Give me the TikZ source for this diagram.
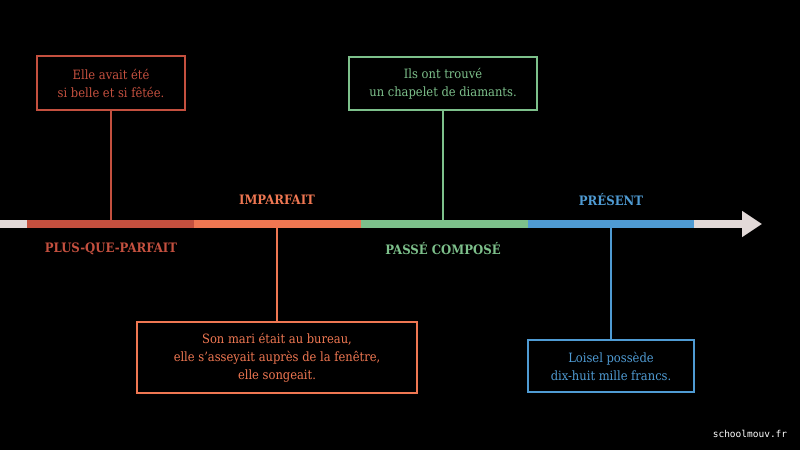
\documentclass[tikz,border=0pt]{standalone}
\usepackage{fontspec}
\setmainfont{DejaVu Serif Condensed}
\setmonofont{DejaVu Sans Mono}
\usepackage{xcolor}
\usetikzlibrary{positioning, arrows.meta}
\definecolor{pqp}{HTML}{C4503F}
\definecolor{imp}{HTML}{EF7752}
\definecolor{pc}{HTML}{7DC08B}
\definecolor{pres}{HTML}{4F9BD3}
\definecolor{axe}{HTML}{E2D9D8}
\tikzset{
  phrase/.style={draw=#1, text=#1, line width=1.6pt, align=center,
    inner sep=0pt, font=\fontsize{12.8}{18}\selectfont},
  temps/.style={text=#1, font=\bfseries\fontsize{13}{14}\selectfont},
  tige/.style={draw=#1, line width=1.6pt}
}

\begin{document}
\begin{tikzpicture}[x=1pt,y=-1pt]
  \fill[black] (0,0) rectangle (800,450);
  \useasboundingbox (0,0) rectangle (800,450);
  % la frise
  \coordinate (t0) at (0,224);
  \coordinate (t1) at (27,224);
  \coordinate (t2) at (194,224);
  \coordinate (t3) at (361,224);
  \coordinate (t4) at (528,224);
  \coordinate (t5) at (694,224);
  \coordinate (fin) at (762,224);
  \draw[axe, line width=8pt] (t0) -- (t1);
  \draw[pqp, line width=8pt] (t1) -- (t2);
  \draw[imp, line width=8pt] (t2) -- (t3);
  \draw[pc, line width=8pt] (t3) -- (t4);
  \draw[pres, line width=8pt] (t4) -- (t5);
  \draw[axe, line width=8pt, -{Triangle[length=20pt,width=25pt]}] (t5) -- (fin);
  % les temps
  \node[temps=pqp] (pqpl) at (111,249) {PLUS-QUE-PARFAIT};
  \node[temps=imp] (impl) at (277,200) {IMPARFAIT};
  \node[temps=pc] (pcl) at (443,249) {PASSÉ COMPOSÉ};
  \node[temps=pres] (presl) at (611,200) {PRÉSENT};
  % les phrases
  \node[phrase=pqp, minimum width=148pt, minimum height=54pt] (a) at (111,83)
    {Elle avait été\\si belle et si fêtée.};
  \node[phrase=pc, minimum width=188pt, minimum height=53pt] (c) at (443,83.5)
    {Ils ont trouvé\\un chapelet de diamants.};
  \node[phrase=imp, minimum width=280pt, minimum height=71pt] (b) at (277,357.5)
    {Son mari était au bureau,\\elle s'asseyait auprès de la fenêtre,\\elle songeait.};
  \node[phrase=pres, minimum width=166pt, minimum height=52pt] (d) at (611,366)
    {Loisel possède\\dix-huit mille francs.};
  \coordinate (pa) at (111,224);
  \coordinate (pb) at (277,224);
  \coordinate (pc) at (443,224);
  \coordinate (pd) at (611,224);
  \draw[tige=pqp] (a.south) -- (pa);
  \draw[tige=imp] (pb) -- (b.north);
  \draw[tige=pc] (c.south) -- (pc);
  \draw[tige=pres] (pd) -- (d.north);
  \node[text=white, font=\ttfamily\fontsize{9.5}{10}\selectfont] (src) at (750,434) {schoolmouv.fr};
\end{tikzpicture}
\end{document}
